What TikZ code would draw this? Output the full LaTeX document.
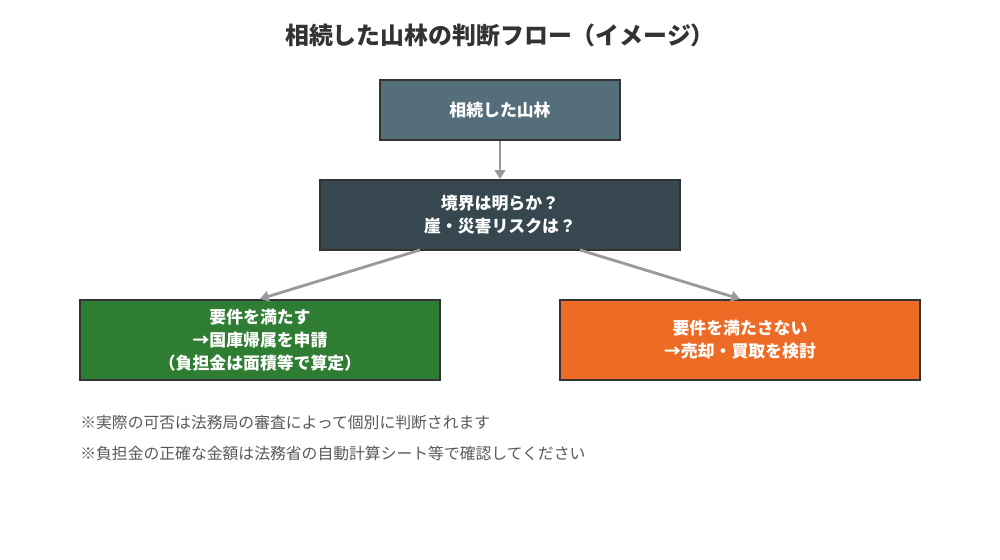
\documentclass[tikz,border=0pt]{standalone}
\usepackage{fontspec}
\setmainfont{Noto Sans CJK JP}
\usetikzlibrary{positioning, arrows.meta}
\definecolor{topc}{HTML}{546E7A}
\definecolor{askc}{HTML}{37474F}
\definecolor{yesc}{HTML}{2E7D32}
\definecolor{noc}{HTML}{EE6B26}
\definecolor{linec}{HTML}{999999}
\definecolor{edgec}{HTML}{333333}
\tikzstyle{block} = [rectangle, draw=edgec, line width=1.2pt, text=white, font=\fontsize{9.6}{13}\selectfont\bfseries, align=center, inner sep=0pt]
\tikzstyle{arrow} = [linec, line width=1.6pt, -{Triangle[length=5pt, width=6pt]}]
\tikzstyle{note} = [anchor=west, text=black!65, font=\fontsize{9}{11}\selectfont, inner sep=0pt]

\begin{document}
\begin{tikzpicture}[x=0.02cm, y=-0.02cm]
		\useasboundingbox[fill=white] (0,0) rectangle (1000,560);
		\node (Title) [font=\fontsize{13.6}{16}\selectfont\bfseries, text=black!80] at (500,35) {相続した山林の判断フロー（イメージ）};
		\node (Forest) [block, fill=topc, minimum width=4.8cm, minimum height=1.2cm] at (500,110) {相続した山林};
		\node (Check) [block, fill=askc, minimum width=7.2cm, minimum height=1.4cm] at (500,215) {境界は明らか？\\崖・災害リスクは？};
		\node (Yes) [block, fill=yesc, minimum width=7.2cm, minimum height=1.6cm] at (260,340) {要件を満たす\\→国庫帰属を申請\\（負担金は面積等で算定）};
		\node (No) [block, fill=noc, minimum width=7.2cm, minimum height=1.6cm] at (740,340) {要件を満たさない\\→売却・買取を検討};
		
		\coordinate (CheckL) at (420,250);
		\coordinate (CheckR) at (580,250);
		\draw [arrow] (Forest.south) -- (Check.north);
		\draw [arrow] (CheckL) -- (Yes.north);
		\draw [arrow] (CheckR) -- (No.north);
		
		\node (Note1) [note] at (80,423) {※実際の可否は法務局の審査によって個別に判断されます};
		\node (Note2) [note] at (80,453) {※負担金の正確な金額は法務省の自動計算シート等で確認してください};
\end{tikzpicture}
\end{document}
